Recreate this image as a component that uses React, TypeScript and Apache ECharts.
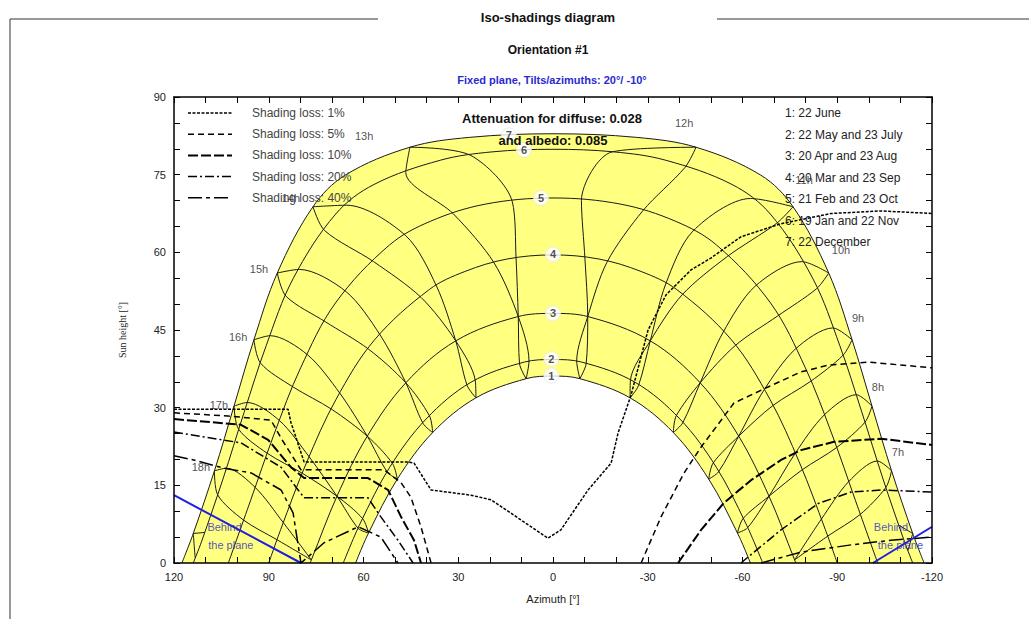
import React, { useEffect, useRef } from "react";
import * as echarts from "echarts";

// legal hours of the hour lines
const hours = [6, 7, 8, 9, 10, 11, 12, 13, 14, 15, 16, 17, 18, 19];

// sun position [azimuth, height] at each legal hour, per date (null: sun below horizon)
const date1Pos = [null, null, [-58.4, 5.8], [-49.3, 16.2], [-38.1, 25.2], [-24.4, 31.9], [-8.5, 35.6], [8.5, 35.6], [24.4, 31.9], [38.1, 25.2], [49.3, 16.2], [58.4, 5.8], null, null];
const date2Pos = [null, null, [-61.0, 7.7], [-51.7, 18.5], [-40.2, 27.8], [-26.0, 34.9], [-9.1, 38.8], [9.1, 38.8], [26.0, 34.9], [40.2, 27.8], [51.7, 18.5], [61.0, 7.7], null, null];
const date3Pos = [null, [-76.5, 0.6], [-68.4, 12.9], [-58.8, 24.5], [-46.6, 34.8], [-30.8, 42.9], [-11.0, 47.6], [11.0, 47.6], [30.8, 42.9], [46.6, 34.8], [58.8, 24.5], [68.4, 12.9], [76.5, 0.6], null];
const date4Pos = [null, [-86.2, 6.5], [-78.1, 19.3], [-68.7, 31.6], [-56.5, 43.1], [-39.2, 52.8], [-14.6, 58.7], [14.6, 58.7], [39.2, 52.8], [56.5, 43.1], [68.7, 31.6], [78.1, 19.3], [86.2, 6.5], null];
const date5Pos = [null, [-95.8, 12.0], [-88.3, 24.9], [-79.9, 37.7], [-68.9, 50.2], [-51.8, 61.4], [-21.5, 69.3], [21.5, 69.3], [51.8, 61.4], [68.9, 50.2], [79.9, 37.7], [88.3, 24.9], [95.8, 12.0], null];
const date6Pos = [[-111.3, 4.1], [-104.4, 16.4], [-97.8, 29.1], [-90.8, 42.0], [-82.3, 54.9], [-68.8, 67.4], [-35.6, 77.8], [35.6, 77.8], [68.8, 67.4], [82.3, 54.9], [90.8, 42.0], [97.8, 29.1], [104.4, 16.4], [111.3, 4.1]];
const date7Pos = [[-113.9, 5.7], [-107.2, 17.8], [-101.0, 30.3], [-94.7, 43.1], [-87.3, 56.0], [-76.0, 68.8], [-45.3, 80.3], [45.3, 80.3], [76.0, 68.8], [87.3, 56.0], [94.7, 43.1], [101.0, 30.3], [107.2, 17.8], [113.9, 5.7]];

// hour-line positions for the two dates of a label (A: Jan-Jun date, B: Jul-Dec date)
const date2A = [null, null, [-60.2, 8.6], [-50.7, 19.3], [-39.0, 28.4], [-24.5, 35.2], [-7.5, 39.0], [10.6, 38.5], [27.2, 34.3], [41.2, 27.0], [52.5, 17.6], [61.7, 6.7], null, null];
const date2B = [null, null, [-61.6, 6.8], [-52.4, 17.6], [-41.1, 27.1], [-27.1, 34.3], [-10.5, 38.5], [7.6, 39.0], [24.6, 35.2], [39.1, 28.4], [50.8, 19.2], [60.3, 8.6], null, null];
const date4A = [null, [-87.0, 5.2], [-78.9, 18.0], [-69.6, 30.4], [-57.7, 42.0], [-40.9, 51.8], [-17.1, 58.1], [11.7, 58.9], [36.9, 53.5], [54.8, 44.1], [67.5, 32.8], [77.2, 20.5], [85.4, 7.8], null];
const date4B = [null, [-85.0, 8.5], [-76.7, 21.2], [-66.8, 33.4], [-53.9, 44.6], [-35.7, 53.9], [-10.1, 58.9], [18.7, 58.0], [41.8, 51.3], [58.4, 41.3], [70.1, 29.7], [79.3, 17.3], [87.4, 4.5], null];
const date5A = [null, [-97.3, 9.4], [-89.8, 22.3], [-81.6, 35.1], [-71.1, 47.7], [-55.2, 59.2], [-28.4, 68.0], [12.9, 69.8], [46.6, 63.2], [65.5, 52.4], [77.7, 40.2], [86.6, 27.5], [94.3, 14.6], null];
const date5B = [null, [-93.6, 15.7], [-85.9, 28.6], [-76.7, 41.3], [-63.9, 53.4], [-44.3, 64.1], [-9.0, 70.0], [31.5, 67.4], [56.8, 58.2], [72.1, 46.6], [82.3, 34.0], [90.5, 21.2], [98.0, 8.3], null];
const date6A = [[-112.4, 2.4], [-105.4, 14.6], [-98.8, 27.2], [-91.8, 40.1], [-83.5, 53.0], [-70.8, 65.6], [-41.8, 76.4], [26.0, 78.7], [65.3, 69.1], [80.3, 56.7], [89.5, 43.9], [96.8, 31.0], [103.4, 18.3], [110.3, 5.9]];
const date6B = [[-109.5, 7.3], [-102.7, 19.7], [-96.0, 32.5], [-88.6, 45.4], [-78.8, 58.2], [-62.5, 70.4], [-18.7, 79.4], [46.6, 75.4], [72.3, 64.2], [84.5, 51.5], [92.6, 38.6], [99.5, 25.8], [106.2, 13.2], [113.3, 1.0]];

// sunset azimuth and noon height per date
const setAzimuths = [62.5, 66.4, 76.9, 90.0, 102.8, 113.9, 117.5];
const noonHeights = [36.1, 39.3, 48.2, 59.5, 70.5, 79.9, 82.9];
// further points of the paths near noon
const nearNoonPoints = [
  [],
  [],
  [],
  [[-27.9, 56.3], [27.9, 56.3]],
  [[-38.8, 66.0], [38.8, 66.0]],
  [[-56.7, 73.1], [-19.3, 79.4], [19.3, 79.4], [56.7, 73.1]],
  [[-65.8, 74.9], [-26.5, 82.2], [26.5, 82.2], [65.8, 74.9]],
];

const dateNumbers = ["1", "2", "3", "4", "5", "6", "7"];
const dateNumberPos = [[0.5, 36.2], [0.5, 39.4], [0, 48.2], [0, 59.6], [3.8, 70.5], [9.2, 79.8], [14, 82.6]];
const dateNames = [
  "1: 22 June",
  "2: 22 May and 23 July",
  "3: 20 Apr and 23 Aug",
  "4: 20 Mar and 23 Sep",
  "5: 21 Feb and 23 Oct",
  "6: 19 Jan and 22 Nov",
  "7: 22 December",
];

const hourLabels = ["7h", "8h", "9h", "10h", "11h", "12h", "13h", "14h", "15h", "16h", "17h", "18h"];
const hourLabelPos = [[-109.2, 21.4], [-102.9, 34], [-96.6, 47.3], [-91.2, 60.4], [-79.5, 74], [-41.5, 85], [59.8, 82.5], [83, 70.5], [93.1, 56.8], [99.7, 43.6], [105.8, 30.5], [111.5, 18.5]];

// iso-shading lines
const loss1 = [[120, 29.7], [83.9, 29.7], [83, 27.2], [78.8, 19.5], [45.9, 19.5], [44, 19.3], [38.6, 14.1], [26, 13.1], [19.6, 12.2], [1.6, 4.8], [-2.5, 6.4], [-11.1, 14.1], [-18.4, 19.3], [-20.6, 25.1], [-24.7, 32.4], [-30.1, 45], [-35.8, 51.8], [-43.7, 56.6], [-50, 58.9], [-59.5, 63], [-72, 65.5], [-88, 67.5], [-104, 68], [-120, 67.5]];
const loss5Left = [[120, 29], [102.9, 28.4], [89.3, 27.6], [86.1, 24.1], [79.8, 18], [53.5, 18], [48.1, 15.5], [45, 12.7], [41.8, 7], [38.6, 0]];
const loss5Right = [[-27.9, 0], [-34.2, 8.9], [-41.5, 17.4], [-46.9, 22.4], [-57.3, 30.9], [-68.1, 34], [-78.5, 36.9], [-87.1, 38.2], [-99.7, 38.8], [-120, 37.7]];
const loss10Left = [[120, 27.8], [98.8, 26.7], [90.2, 23.8], [83, 18.5], [78.8, 16.4], [58.6, 16.4], [52.2, 14.1], [48.1, 8.9], [44, 4.4], [41.8, 0]];
const loss10Right = [[-39.6, 0], [-46.9, 6.4], [-54.1, 11.6], [-62.7, 16], [-72.2, 19.9], [-78.5, 21.8], [-89, 23.4], [-103.9, 24], [-120, 22.8]];
const loss20Left = [[120, 25.3], [98.8, 23.2], [86.1, 18.5], [80.7, 14.1], [78.8, 12.6], [58.6, 12.6], [54.5, 8.9], [49.1, 4.4], [44.3, 0]];
const loss20Right = [[-59.5, 0], [-72.2, 6.4], [-84, 11.5], [-94.4, 13.7], [-103.9, 14.1], [-120, 13.7]];
const loss40Left = [[120, 20.7], [113.7, 19.9], [104.2, 18.3], [95.6, 17.4], [86.1, 14.1], [82.3, 9.7], [79.8, 0], [72.5, 3.9], [61.7, 7], [54.5, 5], [49.1, 0]];
const loss40Right = [[-65.9, 0], [-78.5, 2.1], [-94.4, 3.5], [-107, 4.4], [-120, 5]];
const lossNames = ["Shading loss: 1%", "Shading loss: 5%", "Shading loss: 10%", "Shading loss: 20%", "Shading loss: 40%"];

// limits "behind the plane"
const behindLeft = [[120, 13.1], [79.8, 0]];
const behindRight = [[-101.3, 0], [-120, 7]];
const behindTextPos = [[104, 7], [102, 3.5], [-107, 7], [-110, 3.5]];
const behindTexts = ["Behind", "the plane", "Behind", "the plane"];

const xTicks = [-120, 120];
const yTicks = [0, 90];

const FONT = "'Liberation Sans', Arial, sans-serif";

function buildOption() {
  const datePositions = [date1Pos, date2Pos, date3Pos, date4Pos, date5Pos, date6Pos, date7Pos];
  const branchA = [date1Pos, date2A, date3Pos, date4A, date5A, date6A, date7Pos];
  const branchB = [date1Pos, date2B, date3Pos, date4B, date5B, date6B, date7Pos];
  const sunPath = (i: number) => {
    const pts: number[][] = datePositions[i].filter(Boolean) as number[][];
    pts.push([-setAzimuths[i], 0], [setAzimuths[i], 0], [0, noonHeights[i]], ...nearNoonPoints[i]);
    pts.sort((a, b) => a[0] - b[0]);
    return pts;
  };
  const lossDash = [[3, 1.5], [6, 4], [10, 3], [9, 3, 2, 3], [14, 4, 4, 4]];
  const lossWidth = [1.5, 1.5, 2, 1.5, 1.5];
  const lossSets = [[loss1], [loss5Left, loss5Right], [loss10Left, loss10Right], [loss20Left, loss20Right], [loss40Left, loss40Right]];
  const pathStyle = { color: "#1a1a1a", width: 1 };

  const series: any[] = [];
  // yellow band between date 7 and date 1
  series.push({
    type: "line", data: sunPath(6), smooth: 0.35, symbol: "none", z: 1,
    lineStyle: pathStyle, areaStyle: { color: "#ffff80", opacity: 1 },
  });
  series.push({
    type: "line", data: sunPath(0), smooth: 0.35, symbol: "none", z: 1,
    lineStyle: pathStyle, areaStyle: { color: "#ffffff", opacity: 1 },
  });
  for (let i = 1; i <= 5; i++) {
    series.push({ type: "line", data: sunPath(i), smooth: 0.35, symbol: "none", z: 2, lineStyle: pathStyle });
  }
  hours.forEach((h, k) => {
    [branchA, branchB].forEach((branch) => {
      const pts = branch.map((d) => d[k]).filter(Boolean);
      if (pts.length >= 2) {
        series.push({ type: "line", name: h + "h", data: pts, smooth: 0.3, symbol: "none", z: 2, lineStyle: pathStyle });
      }
    });
  });
  lossSets.forEach((set, i) => {
    set.forEach((pts) => {
      series.push({
        type: "line", data: pts, symbol: "none", z: 3,
        lineStyle: { color: "#000", width: lossWidth[i], type: lossDash[i] },
      });
    });
  });
  [behindLeft, behindRight].forEach((pts) => {
    series.push({ type: "line", data: pts, symbol: "none", z: 3, lineStyle: { color: "#1f1fe0", width: 2 } });
  });
  series.push({
    type: "scatter", z: 6, symbol: "circle", symbolSize: 15,
    itemStyle: { color: "#ffffff", borderColor: "#e6e6e6", borderWidth: 1 },
    data: dateNumbers.map((n, i) => ({ name: n, value: dateNumberPos[i] })),
    label: { show: true, position: "inside", formatter: (p: any) => p.name, color: "#22224a", fontWeight: "bold", fontSize: 11, fontFamily: FONT },
  });
  series.push({
    type: "scatter", z: 6, symbolSize: 1, itemStyle: { color: "transparent" },
    data: hourLabels.map((n, i) => ({ name: n, value: hourLabelPos[i] })),
    label: { show: true, position: "inside", formatter: (p: any) => p.name, color: "#222", fontSize: 11, fontFamily: FONT },
  });
  series.push({
    type: "scatter", z: 6, symbolSize: 1, itemStyle: { color: "transparent" },
    data: behindTexts.map((n, i) => ({ name: n, value: behindTextPos[i] })),
    label: { show: true, position: "inside", formatter: (p: any) => p.name, color: "#2828c8", fontSize: 11, fontFamily: FONT },
  });

  const axisCommonX = {
    type: "value", min: xTicks[0], max: xTicks[1], interval: 10, inverse: true, z: 5,
    splitLine: { show: false },
    axisLine: { show: true, onZero: false, lineStyle: { color: "#000", width: 1.5 } },
    axisTick: { show: true, inside: true, length: 6, lineStyle: { color: "#000" } },
  };
  const axisCommonY = {
    type: "value", min: yTicks[0], max: yTicks[1], interval: 5, z: 5,
    splitLine: { show: false },
    axisLine: { show: true, onZero: false, lineStyle: { color: "#000", width: 1.5 } },
    axisTick: { show: true, inside: true, length: 6, lineStyle: { color: "#000" } },
  };

  const graphic: any[] = [];
  const lineEl = (x1: number, y1: number, x2: number, y2: number, extra: any = {}) => ({
    type: "line", z: 100, shape: { x1, y1, x2, y2 }, style: { stroke: "#333", lineWidth: 1, ...extra },
  });
  graphic.push(lineEl(10, 19, 378, 19), lineEl(717, 19, 1029, 19), lineEl(10, 19, 10, 619));
  const text = (x: number, y: number, t: string, font: string, fill = "#111", align = "center") => ({
    type: "text", z: 100, x, y, style: { text: t, font, fill, textAlign: align, textVerticalAlign: "middle" },
  });
  graphic.push(text(548, 17, "Iso-shadings diagram", `bold 13px ${FONT}`));
  graphic.push(text(548, 50, "Orientation #1", `bold 12px ${FONT}`));
  graphic.push(text(552, 80, "Fixed plane, Tilts/azimuths: 20°/ -10°", `bold 11px ${FONT}`, "#2a2ad0"));
  lossNames.forEach((n, i) => {
    const y = 113 + i * 21.2;
    graphic.push(lineEl(188, y, 232, y, { stroke: "#000", lineWidth: lossWidth[i], lineDash: lossDash[i] }));
    graphic.push(text(252, y, n, `12px ${FONT}`, "#444", "left"));
  });
  dateNames.forEach((n, i) => {
    graphic.push(text(785, 113 + i * 21.5, n, `12px ${FONT}`, "#222", "left"));
  });
  graphic.push(text(552, 118, "Attenuation for diffuse: 0.028", `bold 13px ${FONT}`));
  graphic.push(text(553, 140, "and albedo: 0.085", `bold 13px ${FONT}`));

  return {
    animation: false,
    backgroundColor: "#ffffff",
    textStyle: { fontFamily: FONT },
    grid: { left: 174, top: 97, right: 97, bottom: 56 },
    xAxis: [
      {
        ...axisCommonX, position: "bottom",
        axisLabel: { formatter: (v: number) => (v % 30 === 0 ? String(v) : ""), color: "#222", fontSize: 11, margin: 8 },
        name: "Azimuth [°]", nameLocation: "middle", nameGap: 30, nameTextStyle: { color: "#222", fontSize: 11 },
      },
      { ...axisCommonX, position: "top", axisLabel: { show: false } },
    ],
    yAxis: [
      {
        ...axisCommonY, position: "left",
        axisLabel: { formatter: (v: number) => (v % 15 === 0 ? String(v) : ""), color: "#222", fontSize: 11, margin: 8 },
        name: "Sun height [°]", nameLocation: "middle", nameGap: 47,
        nameTextStyle: { color: "#222", fontSize: 10, fontFamily: "'Liberation Serif', serif" },
      },
      { ...axisCommonY, position: "right", axisLabel: { show: false } },
    ],
    series,
    graphic,
  };
}

export default function App() {
  const ref = useRef<HTMLDivElement>(null);
  useEffect(() => {
    if (!ref.current) return;
    const chart = echarts.init(ref.current, null, { renderer: "svg" });
    chart.setOption(buildOption() as any);
    return () => chart.dispose();
  }, []);
  return <div ref={ref} style={{ position: "absolute", left: 0, top: 0, width: 1029, height: 619 }} />;
}
